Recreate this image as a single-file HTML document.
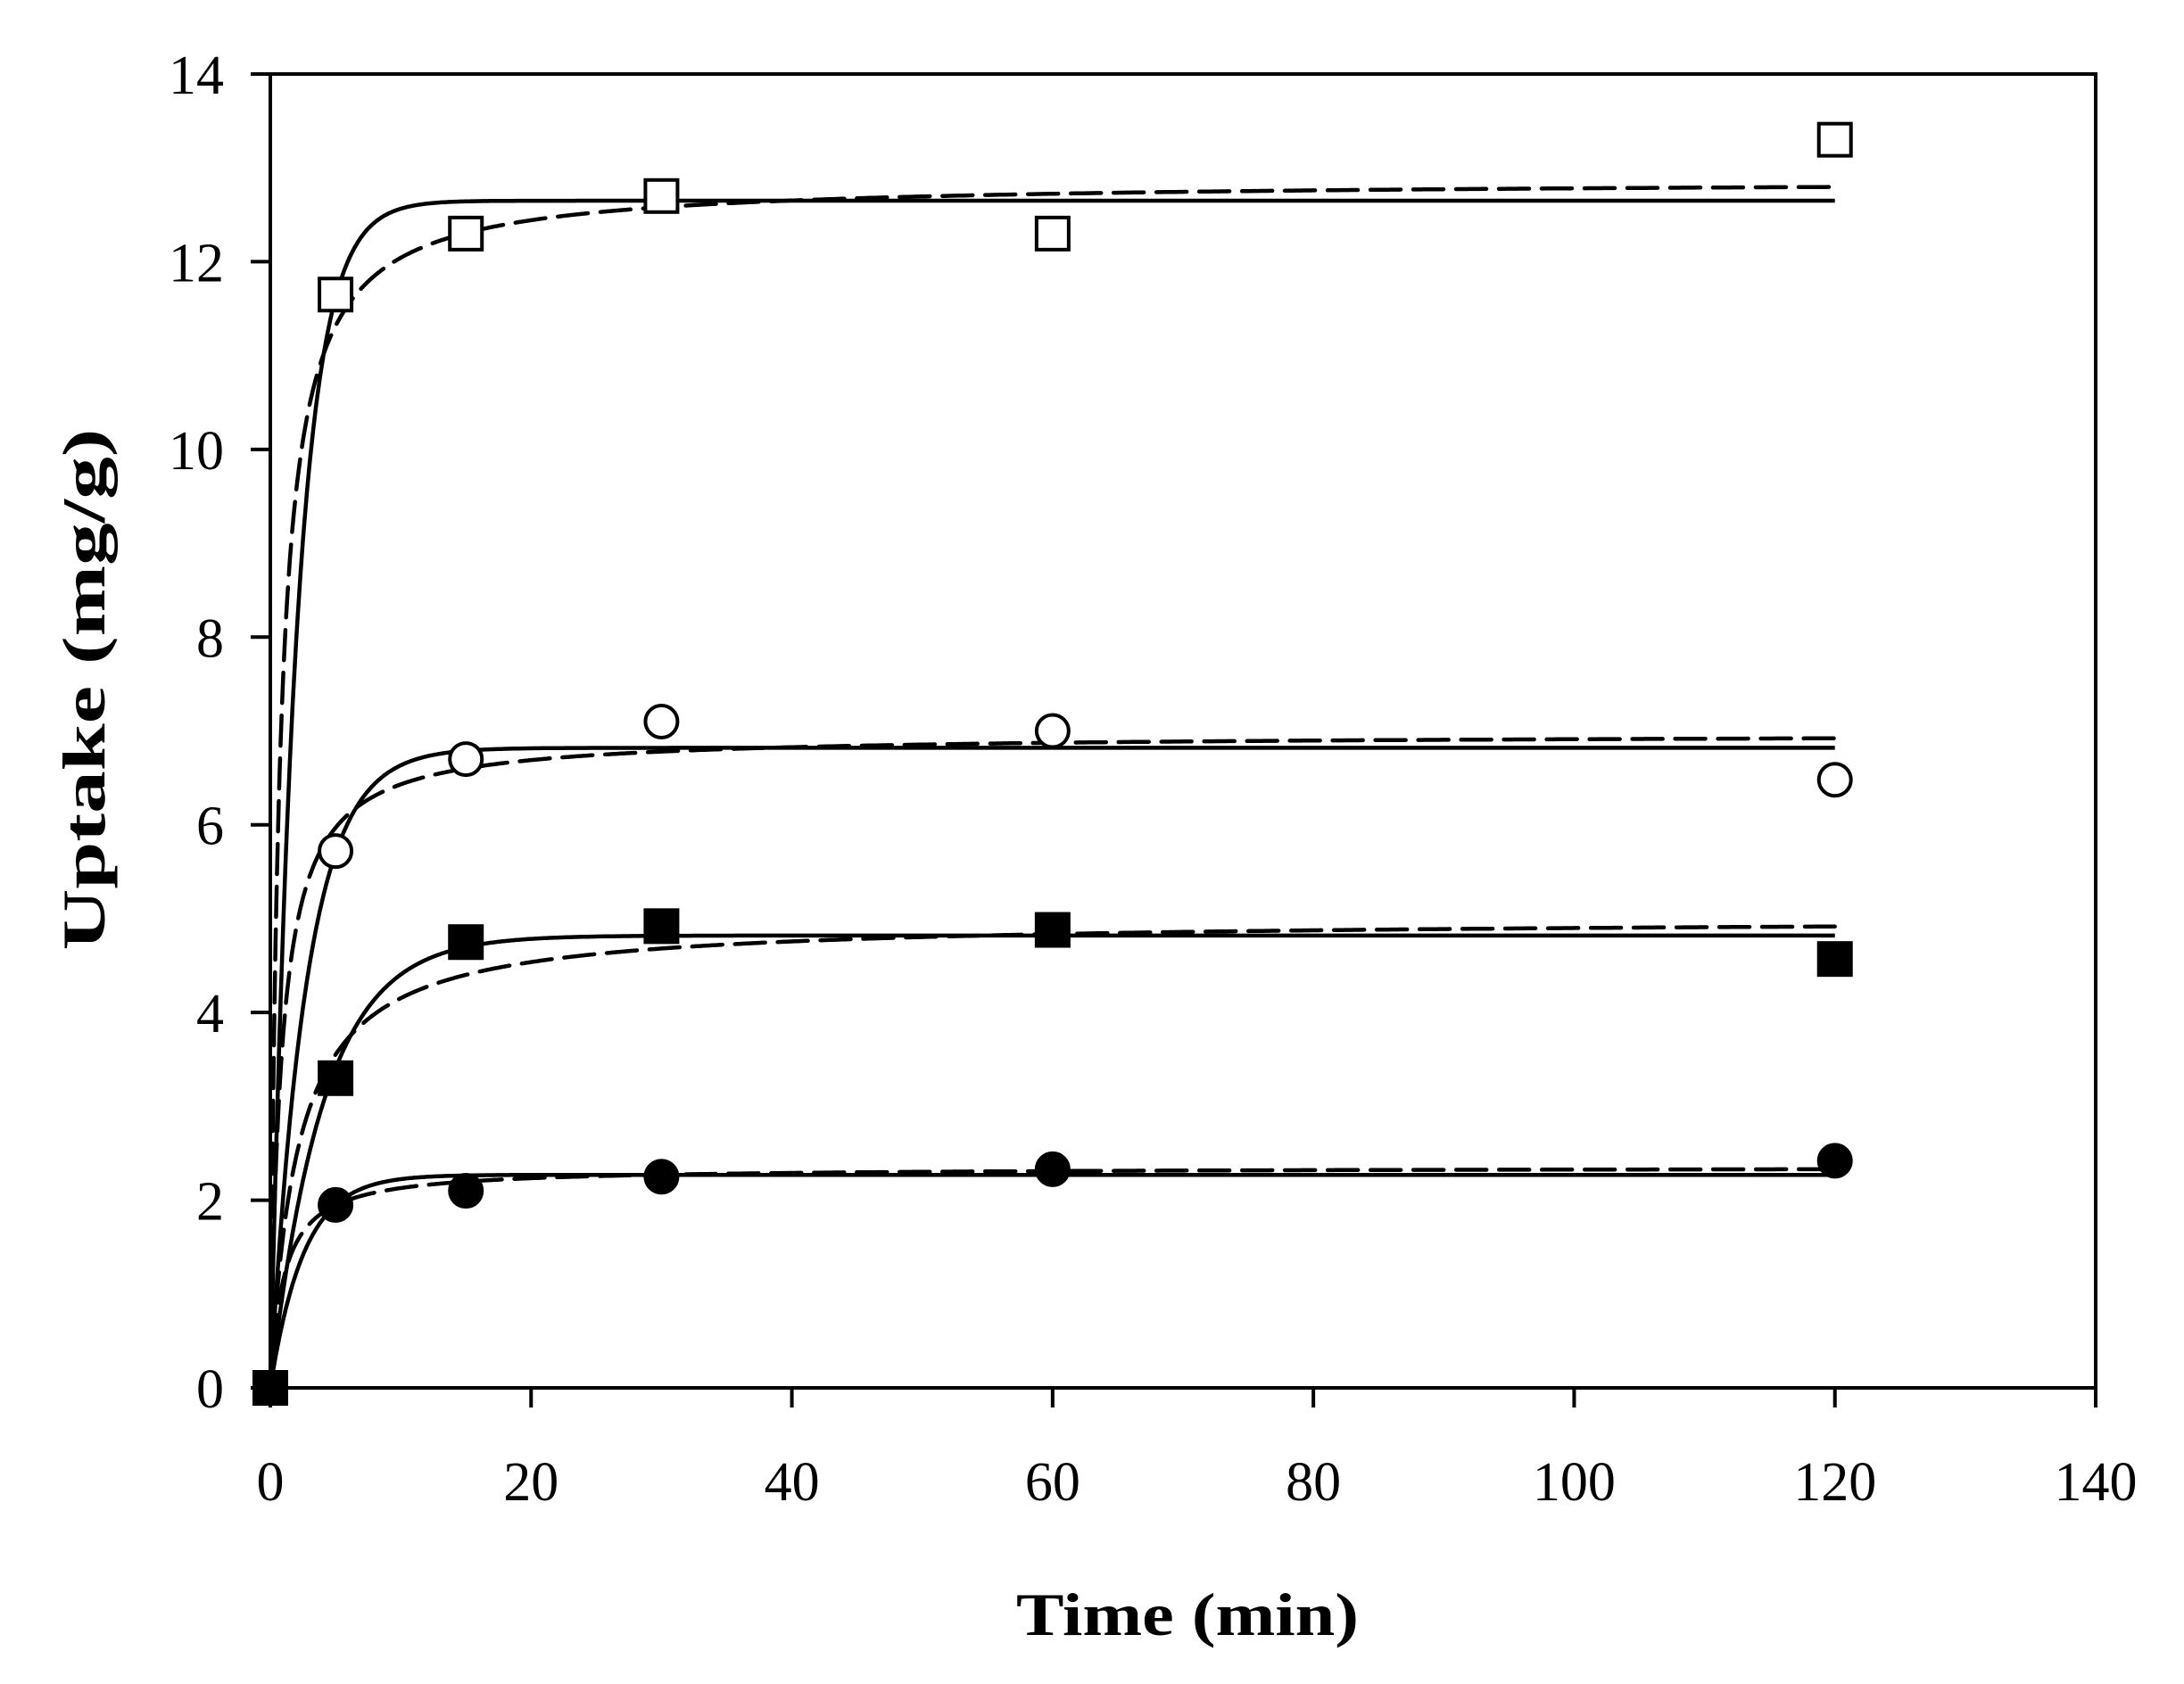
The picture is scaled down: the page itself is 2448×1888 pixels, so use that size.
<!DOCTYPE html>
<html><head><meta charset="utf-8"><style>
html,body{margin:0;padding:0;background:#fff;}
svg{display:block;}
text{font-family:"Liberation Serif",serif;fill:#000;}
</style></head><body>
<svg id="chart" width="2448" height="1888" viewBox="0 0 2448 1888" xmlns="http://www.w3.org/2000/svg">
<g id="axes"></g>
<g id="curves"></g>
<g id="marks"></g>
<text transform="translate(117,773) rotate(-90)" text-anchor="middle" font-size="68" font-weight="bold" textLength="585" lengthAdjust="spacingAndGlyphs">Uptake (mg/g)</text>
<text x="1331" y="1833" text-anchor="middle" font-size="68" font-weight="bold" textLength="384" lengthAdjust="spacingAndGlyphs">Time (min)</text>
</svg>
<script>
const xTicks = [0,20,40,60,80,100,120,140];
const yTicks = [0,2,4,6,8,10,12,14];
const times = [0,5,15,30,60,120];
const seriesNames = ['open-square','open-circle','filled-square','filled-circle'];
const openSquare = [0,11.65,12.3,12.7,12.3,13.3];
const openCircle = [0,5.72,6.7,7.1,7.0,6.48];
const filledSquare = [0,3.3,4.75,4.92,4.88,4.57];
const filledCircle = [0,1.95,2.1,2.25,2.33,2.42];
const pfoQe = [12.65,6.82,4.82,2.27];
const pfoK = [0.5,0.36,0.245,0.39];
const psoQe = [12.87,6.97,5.0,2.35];
const psoK = [0.113,0.171,0.098,0.41];

const L=303,R=2349,T=83,B=1556;
const X=v=>L+(v-0)/(140-0)*(R-L);
const Y=v=>B-(v-0)/(14-0)*(B-T);
const NS='http://www.w3.org/2000/svg';
function mk(tag,parent,attrs){const e=document.createElementNS(NS,tag);for(const k in attrs)e.setAttribute(k,attrs[k]);parent.appendChild(e);return e;}
const axes=document.getElementById('axes');
const frame=mk('rect',axes,{x:L,y:T,width:R-L,height:B-T,fill:'none',stroke:'#000','stroke-width':4});


xTicks.forEach(t=>{
  const l=mk('line',axes,{x1:X(t),x2:X(t),y1:B,y2:B+22,stroke:'#000','stroke-width':4});
  
  
  const tx=mk('text',axes,{x:X(t),y:1682,'text-anchor':'middle','font-size':62});
  tx.textContent=t;
  
  
});
yTicks.forEach(t=>{
  const l=mk('line',axes,{x1:L-22,x2:L,y1:Y(t),y2:Y(t),stroke:'#000','stroke-width':4});
  
  
  const tx=mk('text',axes,{x:251,y:Y(t)+22,'text-anchor':'end','font-size':62});
  tx.textContent=t;
  
  
});
const curves=document.getElementById('curves');
for(let i=0;i<4;i++){
  let d1='',d2='';
  for(let s=0;s<=1200;s++){
    const t=s*0.1;
    const q1=pfoQe[i]*(1-Math.exp(-pfoK[i]*t));
    const a=psoK[i]*psoQe[i]*t;
    const q2=psoQe[i]*a/(1+a);
    d1+=(s?'L':'M')+X(t).toFixed(1)+','+Y(q1).toFixed(1);
    d2+=(s?'L':'M')+X(t).toFixed(1)+','+Y(q2).toFixed(1);
  }
  const p1=mk('path',curves,{d:d1,fill:'none',stroke:'#000','stroke-width':4.5});
  
  
  const p2=mk('path',curves,{d:d2,fill:'none',stroke:'#000','stroke-width':4.5,'stroke-dasharray':'34 14','stroke-linecap':'round'});
  
  
}
const marks=document.getElementById('marks');
const all=[openSquare,openCircle,filledSquare,filledCircle];
all.forEach((vals,i)=>{
  vals.forEach((v,j)=>{
    const cx=X(times[j]),cy=Y(v);
    const fill=(i>=2)?'#000':'#fff';
    let e;
    if(i%2===0) e=mk('rect',marks,{x:cx-18,y:cy-18,width:36,height:36,fill:fill,stroke:'#000','stroke-width':4});
    else e=mk('circle',marks,{cx:cx,cy:cy,r:18,fill:fill,stroke:'#000','stroke-width':4});
    
    
  });
});
</script>
</body></html>
